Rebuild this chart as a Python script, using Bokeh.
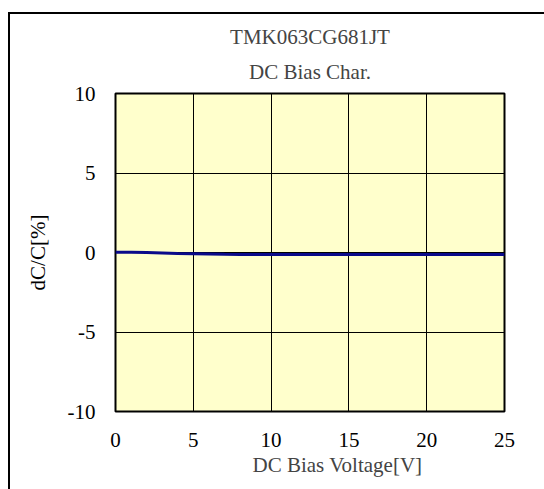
from bokeh.plotting import figure
from bokeh.models import Title, Range1d, FixedTicker
from bokeh.embed import file_html
from bokeh.resources import INLINE

# Data
voltage = [0, 1, 2, 3, 4, 5, 6, 7, 8, 10, 12, 15, 20, 25]
dcc = [0.02, 0.01, 0.0, -0.03, -0.07, -0.08, -0.09, -0.11, -0.12, -0.12, -0.12, -0.12, -0.12, -0.12]
x_ticks = [0, 5, 10, 15, 20, 25]
y_ticks = [-10, -5, 0, 5, 10]
y_tick_labels = {-10: "-10", -5: "-5", 0: "0", 5: "5", 10: "10"}

FONT = "Liberation Serif"
FS = "21px"

p = figure(width=544, height=489, output_backend="svg", toolbar_location=None,
           x_range=Range1d(0, 25), y_range=Range1d(-10, 10),
           min_border_left=115, min_border_right=40, min_border_top=93, min_border_bottom=78,
           title="TMK063CG681JT")
p.title.text_font = FONT
p.title.text_font_size = FS
p.title.text_font_style = "normal"
p.title.align = "center"
p.title.vertical_align = "bottom"
p.title.standoff = 0
p.add_layout(Title(text="DC Bias Char.", align="center", text_font=FONT,
                   text_font_size=FS, text_font_style="normal", standoff=19), "above")

p.background_fill_color = "#FFFFCC"
p.border_fill_alpha = 0
p.outline_line_color = "black"
p.outline_line_width = 2
p.styles = {
    "background": "linear-gradient(#000, #000) 8px 12px / 2px 100% no-repeat, "
                  "linear-gradient(#000, #000) 8px 12px / 100% 2px no-repeat, #ffffff"
}

p.line(voltage, dcc, line_color="#0A0A8A", line_width=3)

for ax in (p.xaxis[0], p.yaxis[0]):
    ax.major_tick_line_color = None
    ax.minor_tick_line_color = None
    ax.axis_line_color = None
    ax.major_label_text_font = FONT
    ax.major_label_text_font_size = FS
    ax.major_label_text_color = "black"
    ax.axis_label_text_font = FONT
    ax.axis_label_text_font_size = FS
    ax.axis_label_text_font_style = "normal"
    ax.axis_label_text_color = "black"

p.xaxis.ticker = FixedTicker(ticks=x_ticks)
p.yaxis.ticker = FixedTicker(ticks=y_ticks)
p.yaxis.major_label_overrides = y_tick_labels
p.xaxis.major_label_standoff = 15
p.yaxis.major_label_standoff = 14
p.yaxis.axis_label = "dC/C[%]"
p.yaxis.axis_label_standoff = 15

p.add_layout(Title(text="DC Bias Voltage[V]", align="left", offset=137, text_font=FONT,
                   text_font_size=FS, text_font_style="normal", standoff=2), "below")

p.xgrid.grid_line_color = "black"
p.ygrid.grid_line_color = "black"
p.xgrid.grid_line_width = 1
p.ygrid.grid_line_width = 1

open("out.html", "w").write(file_html(p, INLINE))
